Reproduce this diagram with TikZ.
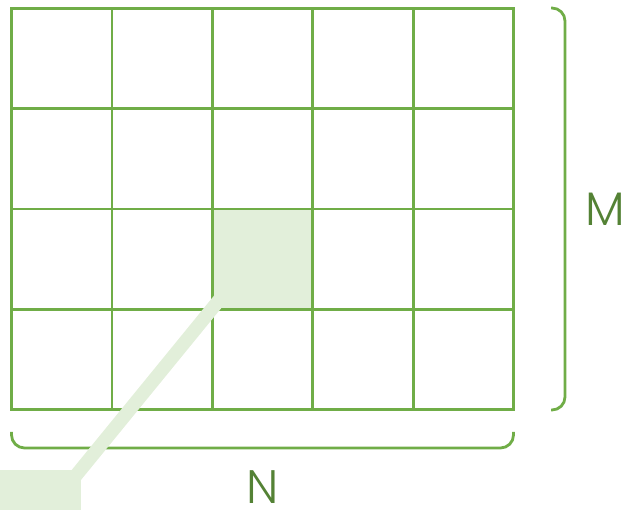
\documentclass[tikz,border=0pt]{standalone}
\usepackage{fontspec}
\setmainfont{Poppins Light}
\definecolor{gridgreen}{HTML}{70AD47}
\definecolor{palegreen}{HTML}{E2EFDA}
\definecolor{textgreen}{HTML}{548235}
\begin{document}
\begin{tikzpicture}[x=1pt,y=-1pt,
  gridline/.style={draw=gridgreen,line width=2.8pt},
  bracket/.style={draw=gridgreen,line width=2.8pt,rounded corners=13pt},
  dimlabel/.style={text=textgreen,font=\fontsize{47}{47}\selectfont,anchor=base,inner sep=0pt},
  band/.style={draw=palegreen,line width=13.5pt}]
\useasboundingbox (0,0) rectangle (630,510);
% highlighted cell
\fill[palegreen] (212.3,209) rectangle (312.7,309);
% grid
\foreach \i in {0,...,5} {
  \draw[gridline] ({11.5+\i*100.4},8.5) -- ({11.5+\i*100.4},409.5);
}
\foreach \j in {0,...,4} {
  \draw[gridline] (10.1,{8.5+\j*100.25}) -- (514.9,{8.5+\j*100.25});
}
% brackets
\draw[bracket] (551,8) -- (565,8) -- (565,410) -- (551,410);
\draw[bracket] (11.5,432) -- (11.5,448) -- (513.5,448) -- (513.5,432);
% zoom band and small square
\coordinate (cellcorner) at (220,299);
\coordinate (sq) at (60,495);
\draw[band] (cellcorner) -- (sq);
\fill[palegreen] (0,470) rectangle (81,510);
% labels
\node[dimlabel] (M) at (605.5,226) {M};
\node[dimlabel] (N) at (262.5,504) {N};
\end{tikzpicture}
\end{document}
